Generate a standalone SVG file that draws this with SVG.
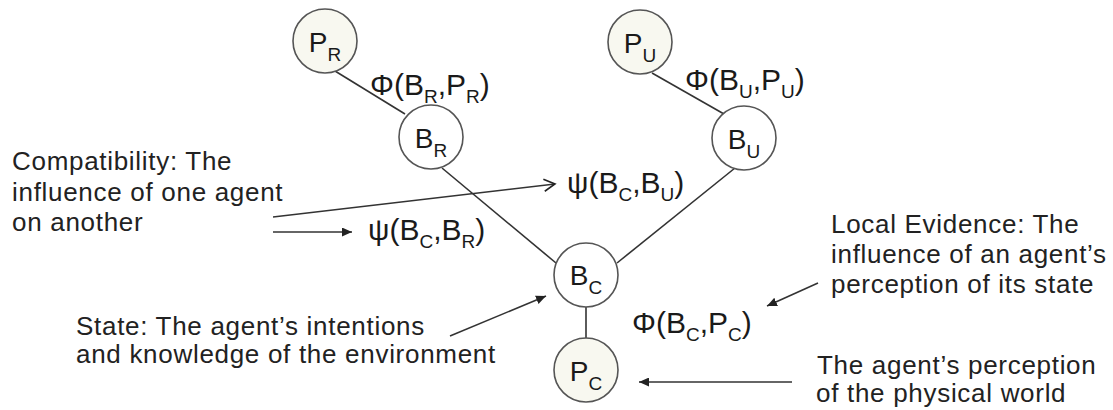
<svg xmlns="http://www.w3.org/2000/svg" width="1113" height="410" viewBox="0 0 1113 410">
<style>
  .bg{fill:#ffffff}
  .nodeB{fill:#ffffff;stroke:#555;stroke-width:1.6}
  .nodeP{fill:#f8f8f0;stroke:#555;stroke-width:1.6}
  .lbl{font-family:"Liberation Sans",Arial,sans-serif;font-size:28px;fill:#1a1a1a}
  .fn{font-family:"Liberation Sans",Arial,sans-serif;font-size:30px;fill:#1a1a1a}
  .sub{font-size:19px}
  .txt{font-family:"Liberation Sans",Arial,sans-serif;font-size:26px;letter-spacing:0.7px;fill:#222}
  .edge{stroke:#333;stroke-width:1.6;fill:none}
  .arr{stroke:#333;stroke-width:1.6;fill:none}
</style>
<defs>
  <marker id="tri" markerUnits="userSpaceOnUse" markerWidth="11" markerHeight="9" refX="10" refY="4.5" orient="auto">
    <path d="M0,0 L10,4.5 L0,9 z" fill="#222"/>
  </marker>
  <marker id="chev" markerUnits="userSpaceOnUse" markerWidth="14" markerHeight="14" refX="12" refY="7" orient="auto">
    <path d="M1,1 L12,7 L1,13" fill="none" stroke="#222" stroke-width="1.6"/>
  </marker>
</defs>
<rect class="bg" x="0" y="0" width="1113" height="410"/>

<g id="connectors">
  <line class="edge" x1="335" y1="71" x2="405" y2="114"/>
  <line class="edge" x1="652" y1="73" x2="724" y2="114"/>
  <line class="edge" x1="442" y1="168" x2="556" y2="263"/>
  <line class="edge" x1="735" y1="168" x2="617" y2="263"/>
  <line class="edge" x1="586" y1="307" x2="586" y2="338"/>
  <line class="arr" x1="273" y1="217" x2="555" y2="184" marker-end="url(#chev)"/>
  <line class="arr" x1="273" y1="232" x2="352" y2="232" marker-end="url(#tri)"/>
  <line class="arr" x1="450" y1="336" x2="546" y2="296" marker-end="url(#tri)"/>
  <line class="arr" x1="818" y1="283" x2="767" y2="306" marker-end="url(#tri)"/>
  <line class="arr" x1="792" y1="382" x2="639" y2="382" marker-end="url(#tri)"/>
</g>

<g id="PR">
  <circle class="nodeP" cx="325" cy="41" r="32"/>
  <text class="lbl" x="325" y="52" text-anchor="middle">P<tspan class="sub" dy="9">R</tspan></text>
</g>
<g id="BR">
  <circle class="nodeB" cx="431" cy="137" r="32"/>
  <text class="lbl" x="431" y="148" text-anchor="middle">B<tspan class="sub" dy="9">R</tspan></text>
</g>
<g id="PU">
  <circle class="nodeP" cx="640" cy="42" r="32"/>
  <text class="lbl" x="640" y="53" text-anchor="middle">P<tspan class="sub" dy="9">U</tspan></text>
</g>
<g id="BU">
  <circle class="nodeB" cx="744" cy="138" r="32"/>
  <text class="lbl" x="744" y="149" text-anchor="middle">B<tspan class="sub" dy="9">U</tspan></text>
</g>
<g id="BC">
  <circle class="nodeB" cx="586" cy="275" r="32"/>
  <text class="lbl" x="586" y="285" text-anchor="middle">B<tspan class="sub" dy="9">C</tspan></text>
</g>
<g id="PC">
  <circle class="nodeP" cx="586" cy="370" r="32"/>
  <text class="lbl" x="586" y="381" text-anchor="middle">P<tspan class="sub" dy="9">C</tspan></text>
</g>

<g id="labels">
  <text class="fn" x="370" y="95">Φ(B<tspan class="sub" dy="8">R</tspan><tspan dy="-8">,P</tspan><tspan class="sub" dy="8">R</tspan><tspan dy="-8">)</tspan></text>
  <text class="fn" x="685" y="90">Φ(B<tspan class="sub" dy="8">U</tspan><tspan dy="-8">,P</tspan><tspan class="sub" dy="8">U</tspan><tspan dy="-8">)</tspan></text>
  <text class="fn" x="567" y="193">ψ(B<tspan class="sub" dy="8">C</tspan><tspan dy="-8">,B</tspan><tspan class="sub" dy="8">U</tspan><tspan dy="-8">)</tspan></text>
  <text class="fn" x="368" y="240">ψ(B<tspan class="sub" dy="8">C</tspan><tspan dy="-8">,B</tspan><tspan class="sub" dy="8">R</tspan><tspan dy="-8">)</tspan></text>
  <text class="fn" x="632" y="333">Φ(B<tspan class="sub" dy="8">C</tspan><tspan dy="-8">,P</tspan><tspan class="sub" dy="8">C</tspan><tspan dy="-8">)</tspan></text>
</g>

<g id="compatibility">
  <text class="txt" x="12" y="170">Compatibility: The</text>
  <text class="txt" x="12" y="201">influence of one agent</text>
  <text class="txt" x="12" y="231">on another</text>
</g>
<g id="state">
  <text class="txt" x="76" y="335">State: The agent’s intentions</text>
  <text class="txt" x="76" y="363">and knowledge of the environment</text>
</g>
<g id="localEvidence">
  <text class="txt" x="831" y="233">Local Evidence: The</text>
  <text class="txt" x="831" y="263">influence of an agent’s</text>
  <text class="txt" x="831" y="293">perception of its state</text>
</g>
<g id="perception">
  <text class="txt" x="817" y="374">The agent’s perception</text>
  <text class="txt" x="816" y="402">of the physical world</text>
</g>
</svg>
